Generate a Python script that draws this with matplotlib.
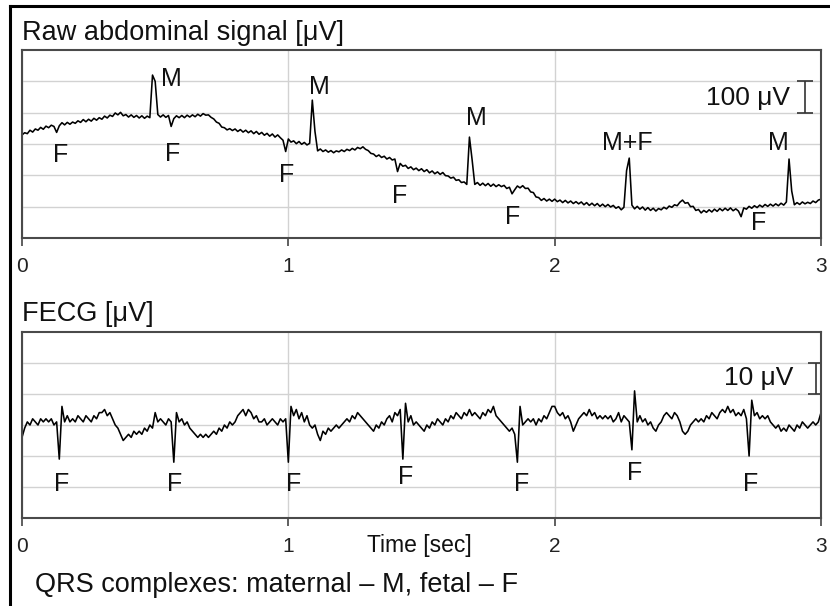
import numpy as np
import matplotlib
matplotlib.use('Agg')
import matplotlib.pyplot as plt
from matplotlib.lines import Line2D

plt.rcParams['font.family'] = ['Liberation Sans', 'DejaVu Sans']

step = 0.01  # sampling step [sec]

# raw abdominal signal [uV], one row = 0.1 sec
raw = [
    329, 336, 333, 344, 338, 348, 344, 353, 347, 357,
    352, 360, 356, 337, 358, 368, 361, 369, 363, 370,
    366, 374, 369, 378, 371, 379, 373, 382, 376, 384,
    379, 389, 383, 392, 388, 399, 393, 401, 390, 394,
    386, 393, 385, 391, 383, 390, 382, 389, 384, 520,
    500, 394, 386, 393, 385, 391, 356, 381, 390, 384,
    391, 384, 392, 386, 393, 387, 395, 389, 397, 392,
    393, 385, 380, 370, 366, 354, 352, 345, 349, 343,
    348, 340, 346, 338, 344, 336, 342, 333, 340, 331,
    337, 328, 334, 325, 332, 322, 329, 320, 312, 276,
    316, 306, 310, 301, 308, 299, 305, 297, 302, 440,
    340, 278, 284, 276, 281, 274, 279, 272, 278, 275,
    281, 276, 283, 279, 286, 281, 289, 285, 291, 283,
    279, 270, 268, 260, 265, 257, 261, 252, 257, 249,
    252, 212, 238, 229, 232, 222, 227, 218, 223, 215,
    221, 212, 218, 208, 214, 205, 211, 203, 209, 199,
    198, 191, 194, 184, 186, 177, 179, 171, 322, 250,
    171, 177, 168, 175, 167, 174, 165, 172, 164, 170,
    164, 168, 158, 162, 141, 154, 166, 160, 167, 158,
    159, 147, 145, 131, 129, 120, 126, 118, 124, 117,
    124, 116, 121, 113, 120, 112, 118, 110, 116, 109,
    115, 106, 113, 104, 111, 103, 110, 101, 108, 100,
    107, 99, 104, 95, 100, 90, 98, 215, 255, 105,
    93, 101, 92, 99, 89, 97, 88, 95, 86, 94,
    90, 98, 93, 102, 98, 106, 103, 114, 121, 111,
    113, 100, 101, 88, 91, 80, 88, 82, 90, 83,
    92, 85, 94, 87, 95, 88, 96, 87, 93, 86,
    68, 96, 92, 101, 95, 103, 97, 105, 99, 107,
    101, 108, 102, 109, 103, 111, 105, 115, 252, 150,
    106, 113, 107, 115, 109, 114, 110, 118, 113, 121,
    124,
]

# extracted fetal ECG [uV]
fecg = [
    26, 29, 31, 30, 32, 31, 30, 32, 31, 32,
    31, 32, 30, 31, 19, 36, 31, 33, 31, 32,
    31, 33, 32, 31, 33, 32, 31, 33, 32, 34,
    34, 35, 33, 34, 32, 30, 29, 27, 25, 26,
    27, 26, 28, 27, 28, 27, 29, 28, 30, 29,
    34, 31, 32, 31, 30, 32, 31, 18, 34, 31,
    32, 30, 31, 29, 28, 27, 26, 27, 26, 27,
    26, 27, 28, 27, 29, 28, 30, 29, 31, 30,
    31, 33, 34, 35, 33, 35, 34, 32, 33, 31,
    31, 32, 30, 31, 32, 31, 30, 32, 31, 32,
    18, 36, 33, 35, 32, 34, 31, 33, 30, 29,
    30, 27, 25, 28, 27, 29, 28, 29, 30, 29,
    30, 31, 32, 31, 33, 32, 34, 33, 32, 31,
    30, 29, 28, 30, 29, 31, 30, 32, 33, 31,
    34, 33, 35, 19, 37, 31, 33, 30, 31, 30,
    29, 28, 30, 29, 31, 30, 32, 31, 30, 32,
    31, 33, 32, 34, 33, 32, 34, 33, 35, 33,
    34, 33, 32, 34, 33, 35, 34, 36, 33, 32,
    31, 30, 29, 28, 29, 27, 18, 36, 30, 31,
    32, 31, 32, 30, 32, 31, 33, 32, 34, 36,
    36, 34, 33, 34, 32, 33, 31, 28, 30, 32,
    33, 34, 33, 35, 33, 34, 32, 33, 32, 33,
    32, 33, 31, 32, 34, 31, 33, 32, 31, 22,
    41, 31, 33, 31, 32, 30, 31, 29, 28, 30,
    31, 33, 34, 33, 32, 34, 33, 31, 28, 27,
    28, 30, 31, 32, 31, 32, 31, 33, 32, 34,
    33, 32, 34, 35, 34, 36, 34, 35, 33, 34,
    33, 35, 32, 20, 38, 33, 34, 32, 33, 32,
    33, 31, 30, 29, 30, 28, 29, 28, 30, 29,
    28, 30, 29, 31, 30, 29, 30, 31, 30, 31,
    34,
]

time = np.arange(len(raw)) * step

raw_labels = ['F', 'M', 'F', 'F', 'M', 'F', 'M', 'F', 'M+F', 'F', 'M']
raw_label_t = [0.146, 0.559, 0.567, 0.995, 1.115, 1.419, 1.705, 1.844, 2.272, 2.767, 2.839]
raw_label_v = [265, 507, 268, 201, 482, 134, 383, 67, 303, 48, 303]

fecg_label_t = [0.150, 0.574, 1.018, 1.442, 1.877, 2.302, 2.737]
fecg_label_v = [11.0, 11.0, 11.0, 13.2, 11.0, 14.5, 11.0]

xticks = [0, 1, 2, 3]

W, H = 830, 606
fig = plt.figure(figsize=(W / 100, H / 100), dpi=100)
fig.patch.set_facecolor('white')

ax1 = fig.add_axes([22 / W, 1 - 238 / H, 799 / W, 188 / H])
ax2 = fig.add_axes([22 / W, 1 - 518 / H, 799 / W, 186 / H])

for ax, top in ((ax1, 600), (ax2, 60)):
    ax.set_xlim(0, 3)
    ax.set_ylim(0, top)
    ax.set_xticks(xticks)
    ax.set_yticks(np.arange(1, 6) * top / 6)
    ax.grid(True, color='#d2d2d2', lw=1.0)
    ax.set_axisbelow(True)
    ax.tick_params(axis='y', length=0, labelleft=False)
    ax.tick_params(axis='x', direction='out', length=6, width=1.2,
                   color='#444444', pad=8, labelsize=15, labelcolor='#222222')
    for s in ax.spines.values():
        s.set_color('#4a4a4a')
        s.set_linewidth(1.5)

ax1.plot(time, raw, color='black', lw=1.15)
ax2.plot(time, fecg, color='black', lw=1.15)

for lab, t, v in zip(raw_labels, raw_label_t, raw_label_v):
    ax1.text(t, v, lab, ha='center', va='center', fontsize=18, color='#111111')
for t, v in zip(fecg_label_t, fecg_label_v):
    ax2.text(t, v, 'F', ha='center', va='center', fontsize=18, color='#111111')

# scale bars
ax1.errorbar(2.94, 450, yerr=50, color='#333333', lw=1.2, capsize=6, capthick=1.2)
ax2.errorbar(2.981, 45, yerr=5, color='#333333', lw=1.2, capsize=6, capthick=1.2)
fig.text(790 / W, 1 - 105 / H, '100 μV', ha='right', va='baseline', fontsize=19, color='#111111')
fig.text(793 / W, 1 - 385 / H, '10 μV', ha='right', va='baseline', fontsize=19, color='#111111')

fig.text(22 / W, 1 - 40 / H, 'Raw abdominal signal [μV]', va='baseline', fontsize=19.5, color='#111111')
fig.text(22 / W, 1 - 321 / H, 'FECG [μV]', va='baseline', fontsize=19.5, color='#111111')
fig.text(367 / W, 1 - 552 / H, 'Time [sec]', va='baseline', fontsize=16.5, color='#111111')
fig.text(35 / W, 1 - 592 / H, 'QRS complexes: maternal – M, fetal – F', va='baseline',
         fontsize=19.5, color='#111111')

# outer frame
fig.add_artist(Line2D([9.5 / W, 9.5 / W], [0, 1 - 5.5 / H], color='black', lw=2.2))
fig.add_artist(Line2D([9.5 / W, 1], [1 - 5.5 / H, 1 - 5.5 / H], color='black', lw=2.2))

fig.savefig('out.png', dpi=100)
